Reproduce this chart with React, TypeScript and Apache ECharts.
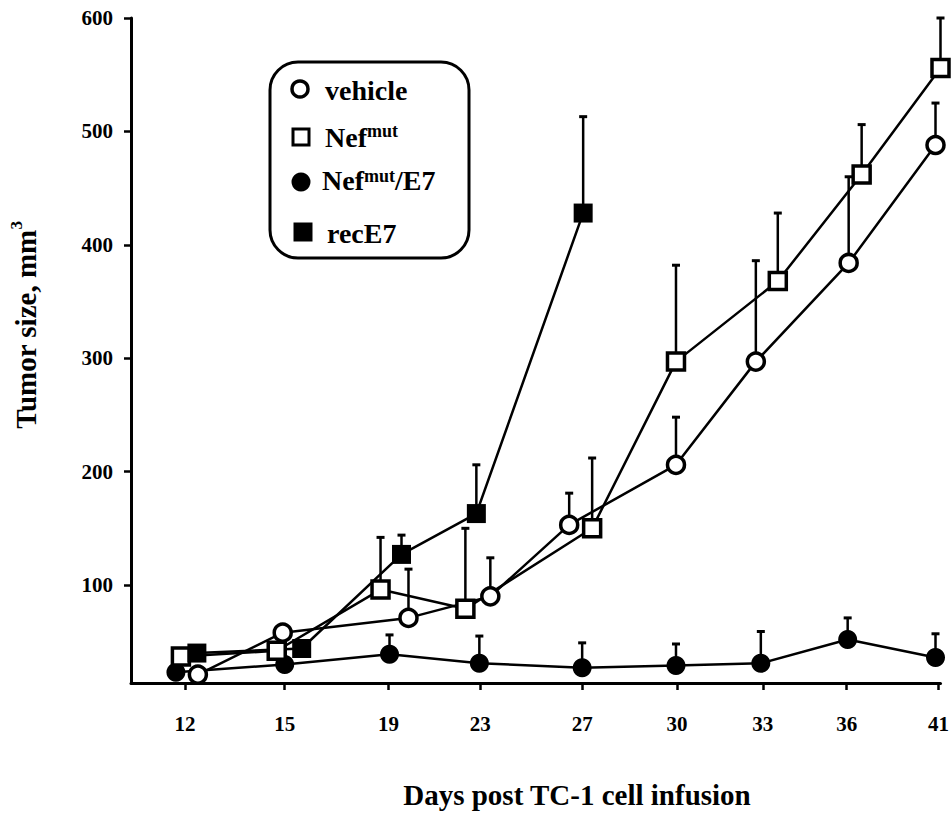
import React, { useEffect, useRef } from "react";
import * as echarts from "echarts";

// ---- data ----
const dayLabels = ["12", "15", "19", "23", "27", "30", "33", "36", "41"];
// tick positions along the x axis (axis units, one unit ~ one category gap)
const tickPos = [0, 1.0, 2.04, 2.96, 3.98, 4.93, 5.79, 6.63, 7.55];
const yTicks = [100, 200, 300, 400, 500, 600];

const vehicleX = [0.13, 0.98, 2.24, 3.06, 3.85, 4.92, 5.72, 6.65, 7.52];
const vehicleY = [21, 58, 71, 90, 153, 206, 297, 384, 488];
const vehicleErr = [null, null, 114, 124, 181, 248, 386, 460, 525];

const nefX = [-0.04, 0.92, 1.96, 2.81, 4.08, 4.92, 5.94, 6.78, 7.57];
const nefY = [37, 42, 96, 79, 150, 297, 368, 462, 556];
const nefErr = [null, null, 142, 150, 212, 382, 428, 506, 600];

const nefE7X = [-0.09, 1.0, 2.05, 2.95, 3.98, 4.92, 5.77, 6.64, 7.52];
const nefE7Y = [23, 30, 39, 31, 27, 29, 31, 52, 36];
const nefE7Err = [null, null, 56, 55, 49, 48, 59, 71, 57];

const recX = [0.12, 1.17, 2.17, 2.92, 3.99];
const recY = [40, 44, 127, 163, 428];
const recErr = [null, null, 144, 206, 513];

const FONT = "'Liberation Serif', 'Times New Roman', serif";

function pairs(xs: number[], ys: number[]) {
  return xs.map((x, i) => [x, ys[i]]);
}
function errData(xs: number[], ys: number[], es: (number | null)[]) {
  const out: number[][] = [];
  xs.forEach((x, i) => {
    const e = es[i];
    if (e != null) out.push([x, ys[i], e]);
  });
  return out;
}

export default function App() {
  const ref = useRef<HTMLDivElement>(null);
  useEffect(() => {
    if (!ref.current) return;
    const chart = echarts.init(ref.current, null, { renderer: "svg" });

    const lineSeries = (
      name: string,
      xs: number[],
      ys: number[],
      symbol: string,
      size: number,
      filled: boolean
    ) => ({
      name,
      type: "line",
      data: pairs(xs, ys),
      symbol,
      symbolSize: size,
      showSymbol: true,
      clip: false,
      z: 3,
      lineStyle: { color: "#000", width: 2.5 },
      itemStyle: filled
        ? { color: "#000", borderColor: "#000", borderWidth: 0 }
        : { color: "#fff", borderColor: "#000", borderWidth: 3.5 },
    });

    const errSeries = (xs: number[], ys: number[], es: (number | null)[]) => ({
      type: "custom",
      data: errData(xs, ys, es),
      clip: false,
      silent: true,
      z: 1,
      encode: { x: 0, y: [1, 2] },
      renderItem: (params: any, api: any) => {
        const x = api.value(0);
        const p0 = api.coord([x, api.value(1)]);
        const p1 = api.coord([x, api.value(2)]);
        return {
          type: "group",
          children: [
            {
              type: "line",
              shape: { x1: p0[0], y1: p0[1], x2: p1[0], y2: p1[1] },
              style: { stroke: "#000", lineWidth: 2.5 },
            },
            {
              type: "line",
              shape: { x1: p1[0] - 4, y1: p1[1], x2: p1[0] + 4, y2: p1[1] },
              style: { stroke: "#000", lineWidth: 3 },
            },
          ],
        };
      },
    });

    const labelStyle = {
      fontSize: 21,
      fontWeight: "bold",
      fontFamily: FONT,
      color: "#000",
    };

    const option: any = {
      animation: false,
      backgroundColor: "#fff",
      grid: { left: 131, right: 10, top: 18, bottom: 132 },
      xAxis: {
        type: "value",
        min: -0.54,
        max: 7.57,
        splitLine: { show: false },
        axisLine: { show: true, onZero: false, lineStyle: { color: "#000", width: 3 } },
        axisTick: {
          show: true,
          customValues: tickPos,
          length: 7,
          lineStyle: { color: "#000", width: 2.5 },
        },
        axisLabel: {
          customValues: tickPos,
          margin: 30,
          ...labelStyle,
          formatter: (v: number) => {
            const i = tickPos.findIndex((t) => Math.abs(t - v) < 1e-6);
            return i >= 0 ? dayLabels[i] : "";
          },
        },
      },
      yAxis: {
        type: "value",
        min: 13.6,
        max: 600,
        splitLine: { show: false },
        axisLine: { show: true, onZero: false, lineStyle: { color: "#000", width: 3 } },
        axisTick: {
          show: true,
          customValues: yTicks,
          length: 7,
          lineStyle: { color: "#000", width: 2.5 },
        },
        axisLabel: { customValues: yTicks, margin: 18, ...labelStyle },
      },
      series: [
        errSeries(nefE7X, nefE7Y, nefE7Err),
        errSeries(nefX, nefY, nefErr),
        errSeries(vehicleX, vehicleY, vehicleErr),
        errSeries(recX, recY, recErr),
        lineSeries("Nefmut/E7", nefE7X, nefE7Y, "circle", 19, true),
        lineSeries("Nefmut", nefX, nefY, "rect", 17, false),
        lineSeries("vehicle", vehicleX, vehicleY, "circle", 17, false),
        lineSeries("recE7", recX, recY, "rect", 19, true),
      ],
      graphic: [
        // y axis title
        {
          type: "text",
          x: 24,
          y: 325,
          rotation: Math.PI / 2,
          style: {
            text: "{a|Tumor size, mm}{b|3}",
            align: "center",
            verticalAlign: "middle",
            rich: {
              a: { fontSize: 29, fontWeight: "bold", fontFamily: FONT, fill: "#000", lineHeight: 32, verticalAlign: "bottom" },
              b: { fontSize: 17, fontWeight: "bold", fontFamily: FONT, fill: "#000", lineHeight: 32, verticalAlign: "top" },
            },
          },
        },
        // x axis title
        {
          type: "text",
          x: 577,
          y: 795,
          style: {
            text: "Days post TC-1 cell infusion",
            fontSize: 29,
            fontWeight: "bold",
            fontFamily: FONT,
            fill: "#000",
            align: "center",
            verticalAlign: "middle",
          },
        },
        // legend box
        {
          type: "rect",
          shape: { x: 270, y: 62, width: 199, height: 196, r: 28 },
          style: { fill: "#fff", stroke: "#000", lineWidth: 3 },
          z: 10,
        },
        {
          type: "circle",
          shape: { cx: 300, cy: 89, r: 8 },
          style: { fill: "#fff", stroke: "#000", lineWidth: 3.5 },
          z: 11,
        },
        {
          type: "rect",
          shape: { x: 293, y: 129, width: 16, height: 16 },
          style: { fill: "#fff", stroke: "#000", lineWidth: 3 },
          z: 11,
        },
        {
          type: "circle",
          shape: { cx: 301, cy: 182, r: 9.5 },
          style: { fill: "#000" },
          z: 11,
        },
        {
          type: "rect",
          shape: { x: 293.5, y: 222.5, width: 19, height: 19 },
          style: { fill: "#000" },
          z: 11,
        },
        {
          type: "text",
          x: 325,
          y: 90,
          z: 11,
          style: { text: "vehicle", fontSize: 28, fontWeight: "bold", fontFamily: FONT, fill: "#000", align: "left", verticalAlign: "middle" },
        },
        {
          type: "text",
          x: 325,
          y: 137,
          z: 11,
          style: { text: "Nef", fontSize: 28, fontWeight: "bold", fontFamily: FONT, fill: "#000", align: "left", verticalAlign: "middle" },
        },
        {
          type: "text",
          x: 367,
          y: 131,
          z: 11,
          style: { text: "mut", fontSize: 18, fontWeight: "bold", fontFamily: FONT, fill: "#000", align: "left", verticalAlign: "middle" },
        },
        {
          type: "text",
          x: 322,
          y: 180,
          z: 11,
          style: { text: "Nef", fontSize: 28, fontWeight: "bold", fontFamily: FONT, fill: "#000", align: "left", verticalAlign: "middle" },
        },
        {
          type: "text",
          x: 364,
          y: 176,
          z: 11,
          style: { text: "mut", fontSize: 18, fontWeight: "bold", fontFamily: FONT, fill: "#000", align: "left", verticalAlign: "middle" },
        },
        {
          type: "text",
          x: 395,
          y: 180,
          z: 11,
          style: { text: "/E7", fontSize: 28, fontWeight: "bold", fontFamily: FONT, fill: "#000", align: "left", verticalAlign: "middle" },
        },
        {
          type: "text",
          x: 327,
          y: 233,
          z: 11,
          style: { text: "recE7", fontSize: 28, fontWeight: "bold", fontFamily: FONT, fill: "#000", align: "left", verticalAlign: "middle" },
        },
      ],
    };

    chart.setOption(option);
    return () => chart.dispose();
  }, []);

  return (
    <div
      ref={ref}
      style={{ position: "fixed", left: 0, top: 0, width: 952, height: 815, background: "#fff" }}
    />
  );
}
